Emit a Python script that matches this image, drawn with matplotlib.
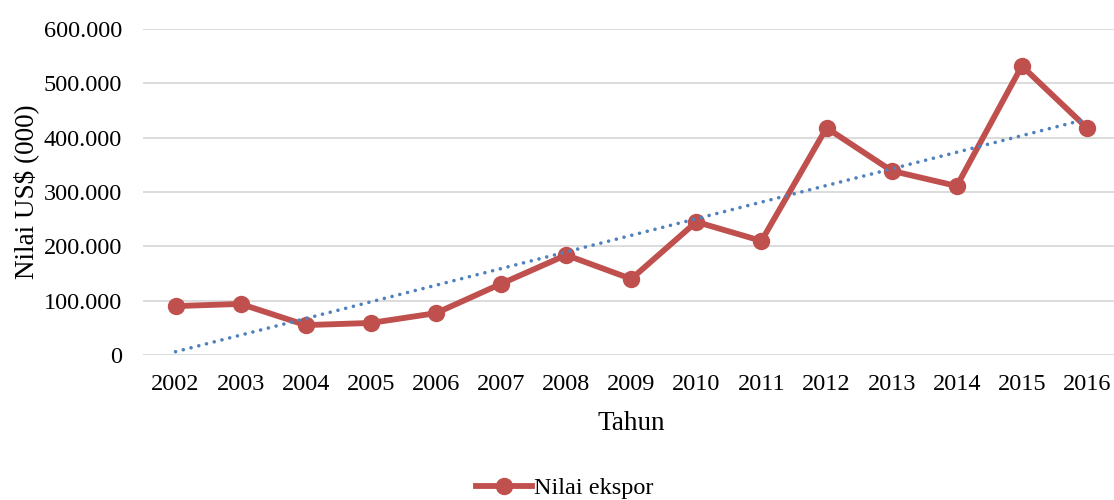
import numpy as np
import matplotlib.pyplot as plt
from matplotlib.ticker import FuncFormatter

years = [2002, 2003, 2004, 2005, 2006, 2007, 2008, 2009,
         2010, 2011, 2012, 2013, 2014, 2015, 2016]
ekspor = [90000, 94000, 55000, 59000, 77000, 131000, 184000, 140000,
          245000, 210000, 418000, 339000, 311000, 532000, 418000]
y_ticks = [0, 100000, 200000, 300000, 400000, 500000, 600000]

plt.rcParams['font.family'] = ['Liberation Serif', 'DejaVu Serif']

fig = plt.figure(figsize=(11.14, 5.0), dpi=100)
ax = fig.add_axes([143 / 1114, 1 - 355 / 500, (1119.5 - 143) / 1114, (355 - 29) / 500])

x = np.arange(len(years))
ax.plot(x, ekspor, color='#C0504D', lw=4.2, marker='o', ms=11.5,
        label='Nilai ekspor', zorder=3)

# linear trendline (least squares, like Excel)
k, b = np.polyfit(x, ekspor, 1)
ax.plot(x, k * x + b, color='#4F81BD', lw=2.6, ls=(0, (0.01, 2.2)),
        dash_capstyle='round', zorder=4)

ax.set_xlim(-0.5, len(years) - 0.5)
ax.set_ylim(0, 600000)
ax.set_xticks(x)
ax.set_xticklabels([str(y) for y in years])
ax.set_yticks(y_ticks)
ax.yaxis.set_major_formatter(FuncFormatter(lambda v, p: f'{int(v):,}'.replace(',', '.')))
ax.tick_params(length=0, labelsize=17.5, colors='#000000')
ax.tick_params(axis='y', pad=15)
ax.tick_params(axis='x', pad=14)
ax.grid(axis='y', color='#D9D9D9', lw=1.3)
ax.set_axisbelow(True)
for s in ax.spines.values():
    s.set_visible(False)

ax.set_xlabel('Tahun', fontsize=19.5, labelpad=11)
ax.set_ylabel('Nilai US$ (000)', fontsize=19.5, labelpad=3)

fig.legend(handles=[ax.lines[0]], loc='center', bbox_to_anchor=(565 / 1114, 1 - 488 / 500),
           frameon=False, fontsize=17.5, handlelength=2.3, handletextpad=0.1)

fig.savefig('out.png', dpi=100)
